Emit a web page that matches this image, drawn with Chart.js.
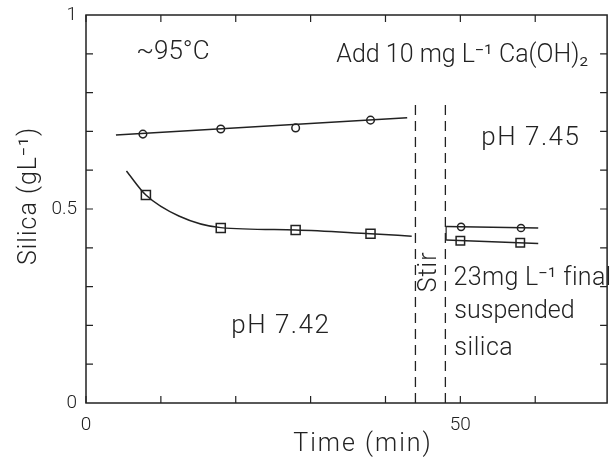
<!DOCTYPE html>
<html>
<head>
<meta charset="utf-8">
<script src="https://cdn.jsdelivr.net/npm/chart.js@4/dist/chart.umd.min.js"></script>
<style>
html, body { margin: 0; padding: 0; background: #fff; }
#wrap { width: 615px; height: 461px; }
</style>
</head>
<body>
<div id="wrap"><canvas id="silicaChart"></canvas></div>
<script>
// measured points (time in min, silica in g/L)
const timeCircles = [7.6, 18, 28, 38];
const silicaCircles = [0.693, 0.706, 0.709, 0.729];
const timeSquares = [8, 18, 28, 38];
const silicaSquares = [0.536, 0.451, 0.446, 0.436];

// after stirring
const timeCirclesStir = [50.1, 58.1];
const silicaCirclesStir = [0.454, 0.451];
const timeSquaresStir = [50.0, 58.0];
const silicaSquaresStir = [0.418, 0.413];

// drawn fit lines
const circleFitTime = [4, 42.9];
const circleFitSilica = [0.691, 0.735];
const squareFitTime = [5.4, 8, 12.4, 18, 28, 38, 43.5];
const squareFitSilica = [0.598, 0.536, 0.482, 0.452, 0.446, 0.436, 0.430];
const circleStirLineTime = [48.1, 60.4];
const circleStirLineSilica = [0.455, 0.451];
const squareStirLineTime = [48.1, 60.4];
const squareStirLineSilica = [0.420, 0.411];

// stir markers (dashed verticals)
const stirTimes = [44, 48];
const stirTop = 0.78;

const xTickLabels = [0, 50];
const yTickLabels = [0, 0.5, 1];

const ink = '#222';
const font = 'Roboto, "DejaVu Sans", sans-serif';

function pts(xs, ys) {
    return xs.map((t, i) => ({ x: t, y: ys[i] }));
}

function lineSet(data, extra) {
    return Object.assign({
        data: data,
        borderColor: ink,
        borderWidth: 1.5,
        pointRadius: 0,
        showLine: true,
        fill: false,
    }, extra || {});
}

function markerSet(data, style, radius) {
    return {
        data: data,
        showLine: false,
        pointStyle: style,
        pointRadius: radius,
        pointBackgroundColor: '#fff',
        pointBorderColor: ink,
        pointBorderWidth: 1.5,
    };
}

const notes = [
    { text: '~95°C', t: 6.7, v: 0.887, align: 'left', size: 26, gap: 0 },
    { text: 'Add 10 mg L⁻¹ Ca(OH)₂', t: 67.1, v: 0.879, align: 'right', size: 25, gap: 0 },
    { text: 'pH 7.45', t: 52.8, v: 0.665, align: 'left', size: 26, gap: 1.5 },
    { text: 'pH 7.42', t: 19.4, v: 0.180, align: 'left', size: 26, gap: 1.5 },
    { text: '23mg L⁻¹ final', t: 49.1, v: 0.304, align: 'left', size: 25, gap: 0.3 },
    { text: 'suspended', t: 49.2, v: 0.219, align: 'left', size: 25, gap: 0 },
    { text: 'silica', t: 49.2, v: 0.124, align: 'left', size: 25, gap: 0.5 },
];

const framePlugin = {
    id: 'framePlugin',
    afterDraw(chart) {
        const ctx = chart.ctx;
        const a = chart.chartArea;
        const x = chart.scales.x;
        const y = chart.scales.y;
        ctx.save();
        ctx.strokeStyle = ink;
        ctx.lineWidth = 1.5;
        ctx.strokeRect(a.left, a.top, a.right - a.left, a.bottom - a.top);

        // inward ticks
        ctx.lineWidth = 1.2;
        ctx.beginPath();
        for (let t = 0; t <= 60; t += 10) {
            const px = x.getPixelForValue(t);
            ctx.moveTo(px, a.bottom); ctx.lineTo(px, a.bottom - 7);
            ctx.moveTo(px, a.top); ctx.lineTo(px, a.top + 7);
        }
        for (let i = 1; i < 10; i++) {
            const py = y.getPixelForValue(i / 10);
            ctx.moveTo(a.left, py); ctx.lineTo(a.left + 7, py);
            ctx.moveTo(a.right, py); ctx.lineTo(a.right - 7, py);
        }
        ctx.stroke();

        ctx.fillStyle = ink;
        ctx.textBaseline = 'alphabetic';
        notes.forEach(n => {
            ctx.font = '300 ' + n.size + 'px ' + font;
            ctx.letterSpacing = n.gap + 'px';
            ctx.textAlign = n.align;
            ctx.fillText(n.text, x.getPixelForValue(n.t), y.getPixelForValue(n.v));
        });
        ctx.letterSpacing = '0px';

        // rotated "Stir" between the dashed lines
        ctx.save();
        ctx.translate(x.getPixelForValue(45.9), y.getPixelForValue(0.338));
        ctx.rotate(-Math.PI / 2);
        ctx.font = '300 25px ' + font;
        ctx.letterSpacing = '1px';
        ctx.textAlign = 'center';
        ctx.textBaseline = 'middle';
        ctx.fillText('Stir', 0, 0);
        ctx.restore();

        // axis titles
        ctx.font = '300 25px ' + font;
        ctx.textAlign = 'center';
        ctx.textBaseline = 'middle';
        ctx.letterSpacing = '2px';
        ctx.fillText('Time (min)', 363, 445);
        ctx.letterSpacing = '1px';
        ctx.save();
        ctx.translate(30, 196);
        ctx.rotate(-Math.PI / 2);
        ctx.fillText('Silica (gL⁻¹)', 0, 0);
        ctx.restore();
        ctx.restore();
    }
};

const ctx = document.getElementById('silicaChart').getContext('2d');
const silicaChart = new Chart(ctx, {
    type: 'scatter',
    data: {
        datasets: [
            lineSet(pts(circleFitTime, circleFitSilica)),
            lineSet(pts(squareFitTime, squareFitSilica), { cubicInterpolationMode: 'monotone' }),
            lineSet(pts(circleStirLineTime, circleStirLineSilica)),
            lineSet(pts(squareStirLineTime, squareStirLineSilica)),
            lineSet(pts([circleStirLineTime[0], squareStirLineTime[0]], [circleStirLineSilica[0], squareStirLineSilica[0]]), { borderWidth: 1.2 }),
            lineSet(pts([stirTimes[0], stirTimes[0]], [0, stirTop]), { borderDash: [10, 6], borderWidth: 1.3 }),
            lineSet(pts([stirTimes[1], stirTimes[1]], [0, stirTop]), { borderDash: [10, 6], borderWidth: 1.3 }),
            markerSet(pts(timeCircles, silicaCircles), 'circle', 3.8),
            markerSet(pts(timeSquares, silicaSquares), 'rect', 6.4),
            markerSet(pts(timeCirclesStir, silicaCirclesStir), 'circle', 3.6),
            markerSet(pts(timeSquaresStir, silicaSquaresStir), 'rect', 6),
        ]
    },
    options: {
        responsive: true,
        maintainAspectRatio: false,
        animation: false,
        layout: { padding: { left: 0, right: 3, top: 15, bottom: 0 } },
        plugins: {
            legend: { display: false },
            tooltip: { enabled: false },
        },
        scales: {
            x: {
                type: 'linear',
                min: 0,
                max: 69.6,
                grid: { display: false, drawTicks: false },
                border: { display: false },
                ticks: {
                    stepSize: 10,
                    padding: 11,
                    color: ink,
                    maxRotation: 0,
                    font: { family: font, size: 19, weight: '300' },
                    callback: v => xTickLabels.includes(v) ? String(v) : '',
                },
                afterFit: s => {
                    s.height = 58;
                    s.paddingLeft = 0;
                    s.paddingRight = 0;
                },
            },
            y: {
                min: 0,
                max: 1,
                grid: { display: false, drawTicks: false },
                border: { display: false },
                ticks: {
                    stepSize: 0.1,
                    padding: 9,
                    color: ink,
                    font: { family: font, size: 19, weight: '300' },
                    callback: v => {
                        const hit = yTickLabels.find(l => Math.abs(l - v) < 1e-6);
                        return hit === undefined ? '' : String(hit);
                    },
                },
                afterFit: s => {
                    s.width = 86;
                    s.paddingTop = 0;
                    s.paddingBottom = 0;
                },
            }
        }
    },
    plugins: [framePlugin]
});
</script>
</body>
</html>
